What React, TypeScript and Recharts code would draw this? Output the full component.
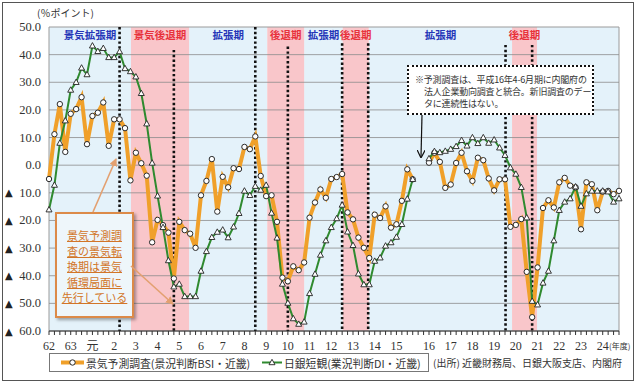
import { Line, LineChart, ReferenceArea, ReferenceLine, XAxis, YAxis } from 'recharts'

// fiscal-year labels; the old survey runs 62..15, the new one 16..24 (two empty quarters between)
const oldYears = ['62', '63', '元', '2', '3', '4', '5', '6', '7', '8', '9', '10', '11', '12', '13', '14', '15']
const newYears = ['16', '17', '18', '19', '20', '21', '22', '23', '24']

// 景気予測調査 (景況判断BSI・近畿), quarterly
const bsi = [
  -5.0, 11.2, 22.1, 4.8, 18.6, 20.3, 24.6, 7.6, 17.8, 19.0, 22.7, 7.0, 16.6, 16.6, 13.4, -5.5,
  4.5, 0.7, -3.8, -27.9, -19.8, -21.7, -24.4, -41.0, -20.5, -23.5, -24.8, -29.9, -10.9, -5.7, 2.2, -16.8,
  -4.2, -8.0, -1.1, -1.4, 6.6, 5.8, 10.4, -3.9, -11.2, -10.9, -20.5, -40.7, -42.0, -36.6, -38.0, -35.2,
  -19.0, -13.5, -8.8, -11.8, -5.0, -4.3, -3.2, -17.1, -19.6, -26.2, -29.9, -33.6, -17.9, -19.1, -14.9, -22.6,
  -21.4, -12.9, -1.5, -5.1, null, null,
  0.9, 4.5, 1.2, -8.2, -7.0, 0.8, 4.5, -2.2, -5.7, 2.7, 1.8, -4.8, -9.1, -5.1, -5.1, -22.3,
  -21.6, -19.5, -38.6, -55.0, -37.0, -15.5, -12.7, -15.3, -6.2, -4.6, -7.4, -8.0, -23.2, -6.2, -6.9, -16.3,
  -9.6, -9.3, -10.5, -9.3,
]

// 日銀短観 (業況判断DI・近畿), quarterly
const tankan = [
  -16.1, -7.2, 8.0, 16.1, 27.2, 30.0, 35.2, 32.8, 43.2, 41.2, 42.3, 39.0, 39.0, 41.1, 35.0, 33.9,
  32.0, 26.0, 15.0, 0.8, -11.1, -22.5, -34.5, -44.0, -43.0, -47.5, -47.5, -47.5, -38.3, -31.2, -26.1, -24.2,
  -23.4, -26.2, -22.3, -17.4, -9.3, -10.9, -7.6, -9.0, -7.2, -17.3, -26.3, -43.0, -49.9, -55.5, -57.5, -56.7,
  -46.4, -39.4, -32.5, -27.3, -22.5, -19.3, -14.4, -24.1, -29.0, -39.3, -43.2, -43.2, -34.7, -33.5, -29.2, -28.0,
  -26.0, -21.4, -12.2, -5.1, null, null,
  2.4, 5.0, 4.6, 5.1, 5.8, 6.8, 9.0, 7.0, 10.0, 7.9, 10.0, 8.0, 9.2, 6.3, 3.6, -0.9,
  -3.2, -8.0, -19.0, -49.2, -50.5, -42.6, -38.3, -27.3, -16.3, -13.3, -12.1, -7.8, -14.8, -10.3, -9.3, -9.3,
  -9.3, -9.6, -13.3, -12.1,
]

const yTicks = [50, 40, 30, 20, 10, 0, -10, -20, -30, -40, -50, -60]
const gridLevels = [40, 30, 20, 10, 0, -10, -20, -30, -40, -50]

// business-cycle phases, in quarter positions
const expansions: [number, number, string][] = [
  [0, 15.1, '景気拡張期'],
  [25.8, 40.2, '拡張期'],
  [47, 54.1, '拡張期'],
  [58.9, 85.3, '拡張期'],
  [89.9, 105, ''],
]
const recessions: [number, number, string][] = [
  [15.1, 25.8, '景気後退期'],
  [40.2, 47, '後退期'],
  [54.1, 58.9, '後退期'],
  [85.3, 89.9, '後退期'],
]
// BSI turning points (quarter position, top of the marker line)
const turningPoints: [number, number][] = [
  [13, 50], [23, 41.7], [38, 50], [44, 42.9], [54, 44.1], [58.8, 44.1], [84.1, 43.5], [89, 43.5],
]

const quarterLabels = [
  ...oldYears.flatMap((y) => [y, '', '', '']),
  '', '',
  ...newYears.flatMap((y) => [y, '', '', '']),
]
const rows = quarterLabels.map((label, i) => ({ i, label, bsi: bsi[i], tankan: tankan[i] }))

const SERIF = "'Liberation Serif', 'Noto Sans CJK JP', serif"
const JP = "'Noto Sans CJK JP', 'Liberation Serif', serif"
const ORANGE = '#F0A02A'
const GREEN = '#2F8A2F'

const CircleDot = (props: any) => {
  const { cx, cy, index, value } = props
  if (cx == null || cy == null || value == null) return <g key={`o${index}`} />
  return <circle key={`o${index}`} cx={cx} cy={cy} r={2.7} fill="#fff" stroke="#2a2a2a" strokeWidth={1} />
}

const TriangleDot = (props: any) => {
  const { cx, cy, index, value } = props
  if (cx == null || cy == null || value == null) return <g key={`t${index}`} />
  return (
    <polygon
      key={`t${index}`}
      points={`${cx},${cy - 3.2} ${cx - 3},${cy + 2.2} ${cx + 3},${cy + 2.2}`}
      fill="#fff"
      stroke="#222"
      strokeWidth={0.9}
    />
  )
}

const YTick = (props: any) => {
  const { x, y, payload } = props
  const v = payload.value as number
  return (
    <g>
      {v < 0 && (
        <text x={x - 36} y={y} dominantBaseline="central" fontSize={10} fill="#222" fontFamily="'DejaVu Sans'">
          ▲
        </text>
      )}
      <text x={x} y={y} textAnchor="end" dominantBaseline="central" fontSize={12.5} fill="#333" fontFamily={SERIF}>
        {Math.abs(v).toFixed(1)}
      </text>
    </g>
  )
}

const periodLabel = (value: string, fill: string) => ({
  value,
  position: 'insideTop' as const,
  offset: 5,
  fill,
  fontSize: 10.5,
  fontWeight: 700,
  fontFamily: JP,
})

const App = () => {
  return (
    <div style={{ position: 'absolute', left: 0, top: 0, width: 638, height: 382, background: '#fff', fontFamily: JP }}>
      <div
        style={{
          position: 'absolute', left: 2, top: 2, width: 632, height: 379,
          border: '1px solid #555', boxSizing: 'border-box',
        }}
      />
      <div style={{ position: 'absolute', left: 37, top: 5, fontSize: 10, color: '#333' }}>(％ポイント)</div>

      <div style={{ position: 'absolute', left: 0, top: 0 }}>
        <LineChart width={638} height={382} data={rows} margin={{ top: 27, right: 19, left: 0, bottom: 21 }}>
          {expansions.map(([a, b, t]) => (
            <ReferenceArea key={`e${a}`} x1={a} x2={b} y1={-60} y2={50} fill="#E4F2FA" fillOpacity={1} stroke="none"
              label={t ? periodLabel(t, '#2636B8') : undefined} />
          ))}
          {recessions.map(([a, b, t]) => (
            <ReferenceArea key={`r${a}`} x1={a} x2={b} y1={-60} y2={50} fill="#F9C6CA" fillOpacity={1} stroke="none"
              label={periodLabel(t, '#E8323C')} />
          ))}
          {gridLevels.map((g) => (
            <ReferenceLine key={`g${g}`} y={g} stroke="#8c8c8c" strokeWidth={0.8} />
          ))}
          <ReferenceArea x1={0} x2={105} y1={-60} y2={50} fill="none" stroke="#9a9a9a" strokeWidth={1} />
          {turningPoints.map(([x, top]) => (
            <ReferenceLine
              key={`tp${x}`}
              segment={[{ x, y: top }, { x, y: -60 }]}
              stroke="#111"
              strokeWidth={2.6}
              strokeDasharray="2.4 2.4"
            />
          ))}
          <XAxis
            dataKey="i"
            type="number"
            domain={[0, rows.length - 1]}
            ticks={rows.map((r) => r.i)}
            interval={0}
            tickFormatter={(v: number) => quarterLabels[v] ?? ''}
            tick={{ fill: '#333', fontSize: 12, fontFamily: SERIF }}
            tickSize={4}
            tickMargin={6}
            tickLine={{ stroke: '#333' }}
            axisLine={{ stroke: '#333' }}
            height={30}
          />
          <YAxis
            domain={[-60, 50]}
            ticks={yTicks}
            interval={0}
            width={49}
            axisLine={false}
            tickLine={false}
            tickSize={0}
            tickMargin={8}
            tick={<YTick />}
          />
          <Line type="linear" dataKey="bsi" stroke={ORANGE} strokeWidth={4} dot={CircleDot} activeDot={false}
            isAnimationActive={false} connectNulls={false} />
          <Line type="linear" dataKey="tankan" stroke={GREEN} strokeWidth={2} dot={TriangleDot} activeDot={false}
            isAnimationActive={false} connectNulls={false} />
        </LineChart>
      </div>

      <div style={{ position: 'absolute', left: 609, top: 340, fontSize: 8, color: '#333', whiteSpace: 'nowrap' }}>(年度)</div>

      {/* note on the survey change */}
      <div
        style={{
          position: 'absolute', left: 407, top: 65, width: 187, height: 50, boxSizing: 'border-box',
          border: '2px dotted #111', background: '#fff', fontSize: 9, color: '#333', lineHeight: '12px',
          padding: '7px 0 0 6px', letterSpacing: -0.2, whiteSpace: 'nowrap',
        }}
      >
        <div>※予測調査は、平成16年4-6月期に内閣府の</div>
        <div style={{ paddingLeft: 9 }}>法人企業動向調査と統合。新旧調査のデー</div>
        <div style={{ paddingLeft: 9 }}>タに連続性はない。</div>
      </div>

      {/* lead/lag comment box */}
      <div
        style={{
          position: 'absolute', left: 55, top: 212, width: 79, height: 106, boxSizing: 'border-box',
          border: '2px solid #DC8A48', background: '#EEF6FA', boxShadow: '2px 2px 3px rgba(0,0,0,0.35)',
          color: '#D27528', fontSize: 11, lineHeight: '15.5px', textAlign: 'center', paddingTop: 14,
          textDecoration: 'underline', whiteSpace: 'nowrap',
        }}
      >
        <div>景気予測調</div>
        <div>査の景気転</div>
        <div>換期は景気</div>
        <div>循環局面に</div>
        <div>先行している</div>
      </div>

      <svg width={638} height={382} style={{ position: 'absolute', left: 0, top: 0, pointerEvents: 'none' }}>
        <defs>
          <marker id="headTan" markerWidth="8" markerHeight="8" refX="7" refY="4" orient="auto" markerUnits="userSpaceOnUse">
            <path d="M0,0 L8,4 L0,8 Z" fill="#E3A070" />
          </marker>
          <marker id="headBlack" markerWidth="8" markerHeight="8" refX="7" refY="4" orient="auto" markerUnits="userSpaceOnUse">
            <path d="M0,0 L8,4 L0,8" fill="none" stroke="#111" strokeWidth={1.2} />
          </marker>
        </defs>
        <line x1={93} y1={212} x2={116} y2={159} stroke="#E3A070" strokeWidth={1.6} markerEnd="url(#headTan)" />
        <line x1={131} y1={266} x2={173} y2={304} stroke="#E3A070" strokeWidth={1.6} markerEnd="url(#headTan)" />
        <line x1={422} y1={115} x2={421} y2={157} stroke="#111" strokeWidth={1.2} markerEnd="url(#headBlack)" />
      </svg>

      {/* legend */}
      <div
        style={{
          position: 'absolute', left: 49, top: 353, width: 380, height: 19, boxSizing: 'border-box',
          border: '1px solid #777', background: '#fff',
        }}
      />
      <svg width={638} height={382} style={{ position: 'absolute', left: 0, top: 0, pointerEvents: 'none' }}>
        <line x1={61} y1={362.5} x2={84} y2={362.5} stroke={ORANGE} strokeWidth={4} />
        <circle cx={72.5} cy={362.5} r={2.7} fill="#fff" stroke="#2a2a2a" strokeWidth={1} />
        <text x={86} y={362.5} dominantBaseline="central" fontSize={10.8} fill="#333" fontFamily={JP}>
          景気予測調査(景況判断BSI・近畿)
        </text>
        <line x1={262} y1={362.5} x2={282} y2={362.5} stroke={GREEN} strokeWidth={2} />
        <polygon points="272,359.3 269,364.7 275,364.7" fill="#fff" stroke="#222" strokeWidth={0.9} />
        <text x={284} y={362.5} dominantBaseline="central" fontSize={10.8} fill="#333" fontFamily={JP}>
          日銀短観(業況判断DI・近畿)
        </text>
        <text x={433} y={362.5} dominantBaseline="central" fontSize={10} fill="#333" fontFamily={JP}>
          (出所) 近畿財務局、日銀大阪支店、内閣府
        </text>
      </svg>
    </div>
  )
}

export default App
